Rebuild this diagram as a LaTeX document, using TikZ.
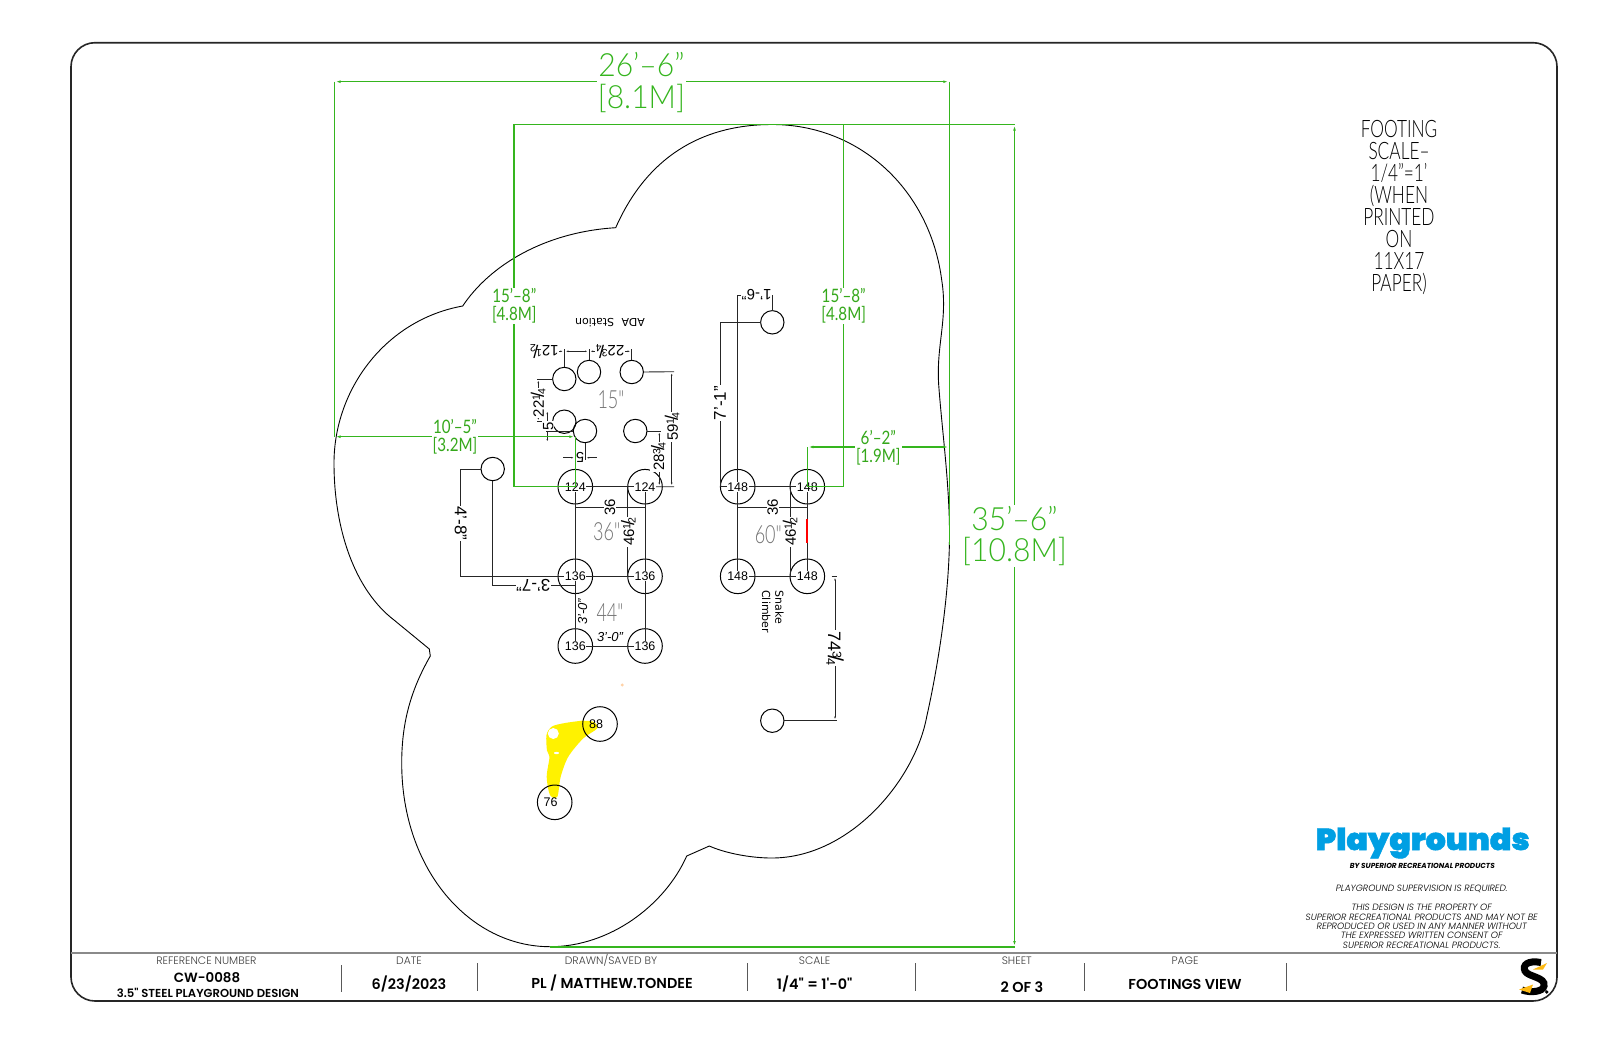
\documentclass[tikz,border=0pt]{standalone}
\usepackage{fontspec}
\usetikzlibrary{arrows.meta}
\setmainfont{Liberation Sans}
\newfontfamily\cadf[FakeStretch=0.94]{Lato Light}
\newfontfamily\cadn[FakeStretch=0.72]{Lato Light}
\newfontfamily\cads[FakeStretch=0.82]{Lato}
\newfontfamily\sdf{DejaVu Sans}
\newfontfamily\popl{Poppins Light}
\newfontfamily\popm{Poppins SemiBold}
\newfontfamily\pop{Poppins}
\newfontfamily\logof[FakeBold=1.5]{Poppins Black}
\newcommand\frc[2]{\raisebox{3.8pt}{\fontsize{10.5}{10.5}\selectfont #1}\kern-2.4pt{\fontsize{18}{18}\selectfont/}\kern-2.4pt\raisebox{-1.5pt}{\fontsize{10.5}{10.5}\selectfont #2}}
\definecolor{cadgreen}{HTML}{35B51E}
\definecolor{cadgreenD}{HTML}{35A81B}
\definecolor{ttl}{HTML}{8A8A8A}
\definecolor{blueP}{HTML}{009FE3}
\definecolor{yelS}{HTML}{FDB913}
\tikzset{
 foot/.style={circle,draw=black,line width=1,minimum size=34.6pt,inner sep=0pt,outer sep=0pt},
 pier/.style={circle,draw=black,line width=1,minimum size=23.4pt,inner sep=0pt,outer sep=0pt},
 flab/.style={fill=white,inner sep=.5pt,font=\fontsize{12.5}{12.5}\selectfont},
 dline/.style={line width=.9,black!85},
 darr/.style={dline,arrows={Latex[length=4pt,width=1.6pt]-Latex[length=4pt,width=1.6pt]}},
 dtxt/.style={fill=white,inner sep=.7pt,font=\fontsize{15}{15}\selectfont},
 dbig/.style={fill=white,inner sep=.7pt,font=\fontsize{17}{17}\selectfont},
 gline/.style={line width=1.15,cadgreen},
 garr/.style={gline,arrows={Latex[length=6pt,width=2.6pt]-Latex[length=6pt,width=2.6pt]}},
 gbig/.style={fill=white,inner sep=1pt,align=center,text=cadgreen,font=\cadf\fontsize{32}{31.6}\selectfont},
 gsmall/.style={fill=white,inner sep=1pt,align=center,text=cadgreenD,font=\cads\fontsize{18.5}{18}\selectfont},
 gray num/.style={inner sep=0pt,text=black!55,font=\cadn\fontsize{25}{25}\selectfont},
 ttllab/.style={inner sep=0pt,text=black!75,font=\popl\fontsize{10.8}{11}\selectfont},
 ttlval/.style={inner sep=0pt,font=\popm\fontsize{14.4}{14.4}\selectfont},
 sepline/.style={line width=1,black!65},
 legal/.style={inner sep=0pt,font=\popl\itshape\fontsize{9.1}{9}\selectfont},
 outline/.style={line width=.9,black},
}
\begin{document}
\begin{tikzpicture}[x=1pt,y=-1pt]
\useasboundingbox (0,0) rectangle (1613,1044);
\fill[white] (0,0) rectangle (1613,1044);
% frame
\draw[line width=1.6,black!85,rounded corners=24pt] (71,42.7) rectangle (1557,1001);
\draw[line width=2,ttl] (71,952.7) -- (1557,952.7);
% site outline
\draw[outline,line join=miter] (615.7,227.7) .. controls (650,150) and (710,124.5) .. (772,124.5)
 .. controls (860,124.5) and (930,190) .. (941.7,280)
 .. controls (948,320) and (936,345) .. (938.7,385)
 .. controls (942,430) and (949,480) .. (949.5,530)
 .. controls (950,600) and (935,680) .. (926.7,716.7)
 .. controls (915,780) and (850,858) .. (771.7,858)
 .. controls (750,858) and (725,853) .. (709.3,846)
 -- (686.7,856)
 .. controls (665,905) and (610,946.7) .. (550,946.7)
 .. controls (470,946.7) and (401.7,870) .. (401.7,763)
 .. controls (401.7,720) and (412,688) .. (430.3,656)
 -- (429.3,649) -- (394,620)
 .. controls (355,590) and (334,530) .. (334,463)
 .. controls (334,390) and (385,320) .. (462.7,306)
 .. controls (490,265) and (545,232) .. (615.7,227.7) -- cycle;
% yellow highlight
\fill[yellow] plot[smooth,tension=.5] coordinates {(581.7,720.7) (565,723) (552,726.5) (546.5,735) (547,750.7) (549.5,757) (546.7,776.7) (550,795) (557.3,796.7) (560.7,776.7) (568.3,756.7) (583.3,738.3) (597.3,728.3) (593.3,721.7) (581.7,720.7)};
\fill[white] (553.3,733.5) circle (5.5pt);
\fill[white] (556.5,753) ellipse (2.5pt and 1.2pt);
\fill[orange!35] (622.3,685) circle (1.6pt);
% footings
\node[foot] (a1) at (575.3,486.7) {};
\node[foot] (a2) at (645,486.7) {};
\node[foot] (b1) at (575.3,576.3) {};
\node[foot] (b2) at (645,576.3) {};
\node[foot] (c1) at (575.3,646) {};
\node[foot] (c2) at (645,646) {};
\node[foot] (d1) at (737.7,486.7) {};
\node[foot] (d2) at (807.3,486.7) {};
\node[foot] (e1) at (737.7,576.3) {};
\node[foot] (e2) at (807.3,576.3) {};
\node[foot] (g1) at (600,724) {};
\node[foot] (g2) at (554.7,802.3) {};
\node[pier] (s1) at (564.3,379) {};
\node[pier] (s2) at (589,372) {};
\node[pier] (s3) at (631.7,372) {};
\node[pier] (s4) at (564.3,421.7) {};
\node[pier] (s5) at (585,431) {};
\node[pier] (s6) at (635.3,431) {};
\node[pier] (s7) at (492.7,469) {};
\node[pier] (s8) at (772.3,322.3) {};
\node[pier] (s9) at (772.3,720.7) {};
% free ends of dimension lines
\coordinate (u1) at (564.3,349);
\coordinate (u2) at (589,349);
\coordinate (u3) at (631.7,349);
\coordinate (h1) at (564.3,351.3);
\coordinate (h2) at (589,351.3);
\coordinate (h3) at (631.7,351.3);
\coordinate (h0) at (552,351.3);
\coordinate (q1) at (674,371.7);
\coordinate (q2) at (674,486.7);
\coordinate (q3) at (671.7,371.7);
\coordinate (q4) at (671.7,486.7);
\coordinate (r1) at (661,431);
\coordinate (r2) at (659.3,431);
\coordinate (r3) at (659.3,486.7);
\coordinate (l1) at (536.7,379);
\coordinate (l2) at (536.7,421.7);
\coordinate (l3) at (538.3,379);
\coordinate (l4) at (538.3,421.7);
\coordinate (m1) at (547.3,410);
\coordinate (m2) at (547.3,443);
\coordinate (m3) at (545.7,431);
\coordinate (n1) at (563,457.7);
\coordinate (n2) at (596.7,457.7);
\coordinate (n3) at (585,460);
\coordinate (n5) at (575.3,457.7);
\coordinate (n6) at (585,457.7);
\coordinate (t1) at (575.3,507.3);
\coordinate (t2) at (645,507.3);
\coordinate (t3) at (737.7,507.3);
\coordinate (t4) at (807.3,507.3);
\coordinate (f1) at (627.7,486.7);
\coordinate (f2) at (627.7,576.3);
\coordinate (f3) at (790,486.7);
\coordinate (f4) at (790,576.3);
\coordinate (k1) at (460.7,469);
\coordinate (k2) at (460.7,576.3);
\coordinate (j1) at (492.7,585);
\coordinate (j2) at (575.3,585);
\coordinate (w1) at (737.7,295);
\coordinate (w2) at (772.3,295);
\coordinate (w3) at (720,322.3);
\coordinate (w4) at (720,486.7);
\coordinate (v1) at (831.7,576.3);
\coordinate (v2) at (837,576.3);
\coordinate (v3) at (835,576.3);
\coordinate (v4) at (835,720.7);
\coordinate (v5) at (837,720.7);
\coordinate (red1) at (807.3,519.3);
\coordinate (red2) at (807.3,543.3);
% footing ties
\draw[dline,line width=1] (a1.center) -- (a2.center) (b1.center) -- (b2.center) (c1.center) -- (c2.center)
 (a1.center) -- (c1.center) (a2.center) -- (c2.center)
 (d1.center) -- (d2.center) (e1.center) -- (e2.center)
 (d1.center) -- (e1.center) (d2.center) -- (e2.center);
\draw[line width=2,red] (red1) -- (red2);
% dimensions
\draw[dline] (s1.north) -- (u1) (s2.north) -- (u2) (s3.north) -- (u3);
\draw[darr] (h0) -- (h1);
\draw[darr] (h1) -- (h2);
\draw[darr] (h2) -- (h3);
\node[dtxt,rotate=180] (t12) at (544.3,351.3) {12\frc{1}{2}};
\node[dtxt,rotate=180] (t22) at (610,351.3) {22\frc{3}{4}};
\draw[dline] (s3.east) -- (q1) (a2.center) -- (q2);
\draw[darr] (q3) -- (q4);
\node[dtxt,rotate=90] (t59) at (672,426.7) {59\frc{1}{4}};
\draw[dline] (s6.east) -- (r1);
\draw[darr] (r2) -- (r3);
\node[dtxt,rotate=90] (t28) at (658.3,456.7) {28\frc{3}{4}};
\draw[dline] (s1.west) -- (l1) (s4.west) -- (l2);
\draw[darr] (l3) -- (l4);
\node[dtxt,rotate=90] (t22v) at (538,403) {22\frc{1}{4}};
\draw[darr] (m1) -- (m2);
\draw[dline] (s5.west) -- (m3);
\node[dtxt,rotate=90] (t5v) at (548.3,426) {5};
\draw[dline,arrows={-Latex[length=4pt,width=1.6pt]}] (n1) -- (n5);
\draw[dline,arrows={-Latex[length=4pt,width=1.6pt]}] (n2) -- (n6);
\draw[dline] (s5.south) -- (n3);
\node[inner sep=0pt,rotate=180,font=\fontsize{14.5}{14.5}\selectfont] (t5h) at (580,457.7) {5};
\draw[dline] (t1) -- (t2) (t3) -- (t4);
\node[dtxt,rotate=90] (t36a) at (610,507.3) {36};
\node[dtxt,rotate=90] (t36b) at (772.7,507.3) {36};
\draw[dline] (f1) -- (f2) (f3) -- (f4);
\node[dtxt,rotate=90] (t46a) at (628.3,531.7) {46\frc{1}{2}};
\node[dtxt,rotate=90] (t46b) at (790,531.7) {46\frc{1}{2}};
\node[dtxt,rotate=90,fill=white,font=\itshape\fontsize{13}{13}\selectfont] (t30v) at (582.7,611.7) {3'-0"};
\node[inner sep=0pt,font=\itshape\fontsize{13}{13}\selectfont] (t30h) at (610,636.7) {3'-0"};
\draw[dline] (s7.west) -- (k1) -- (k2) -- (b1.center);
\node[dbig,rotate=-90] (t48) at (460.7,523.3) {4'-8"};
\draw[dline] (s7.south) -- (j1) -- (j2) -- (b1.center);
\node[dbig,rotate=180] (t37) at (533.3,585) {3'-7"};
\draw[dline] (s8.north) -- (w2) -- (w1) -- (d1.center);
\node[dtxt,rotate=180] (t16) at (756.7,295) {1'-6"};
\draw[dline] (s8.west) -- (w3) -- (w4) -- (d1.center);
\node[dbig,rotate=90] (t71) at (720,403) {7'-1"};
\draw[dline] (v1) -- (v2) (s9.east) -- (v5);
\draw[darr] (v3) -- (v4);
\node[dtxt,rotate=-90] (t74) at (835,648.3) {\scalebox{1.2}{74\frc{3}{4}}};
% footing depths
\node[flab] at (a1) {124};
\node[flab] at (a2) {124};
\node[flab] at (b1) {136};
\node[flab] at (b2) {136};
\node[flab] at (c1) {136};
\node[flab] at (c2) {136};
\node[flab] at (d1) {148};
\node[flab] at (d2) {148};
\node[flab] at (e1) {148};
\node[flab] at (e2) {148};
\node[flab,fill=none] at (596,724) {88};
\node[flab,fill=none] at (550.5,802) {76};
% annotations
\node[gray num] (n15) at (611,399.3) {15"};
\node[gray num] (n36) at (606.7,531.7) {36"};
\node[gray num] (n44) at (610,612.7) {44"};
\node[gray num] (n60) at (768.3,535) {60"};
\node[inner sep=0pt,rotate=180,font=\sdf\fontsize{11}{11}\selectfont] (ada) at (610,322.3) {ADA\hspace{4pt} Station};
\node[inner sep=0pt,rotate=-90,align=left,font=\sdf\fontsize{11}{13.3}\selectfont] (snake) at (772.8,611.7) {Snake\\Climber};
% green dimensions
\coordinate (gA) at (334.5,81.7);
\coordinate (gB) at (949.3,81.7);
\coordinate (gA2) at (334.5,436.7);
\coordinate (gB2) at (949.3,545);
\coordinate (gC) at (514,124.5);
\coordinate (gC2) at (514,486.7);
\coordinate (gD) at (843.7,124.5);
\coordinate (gD2) at (843.7,486.7);
\coordinate (gE) at (1014.5,124.5);
\coordinate (gF) at (1014.5,947);
\coordinate (gG) at (550,947);
\coordinate (gH) at (575.3,436.7);
\coordinate (gI) at (807.3,447);
\coordinate (gJ) at (949.3,447);
\draw[gline] (gA) -- (gA2) (gB) -- (gB2);
\draw[garr] (gA) -- (gB);
\draw[gline] (gC2) -- (gC) -- (gE);
\draw[gline] (gC2) -- (a1.center);
\draw[gline] (gD) -- (gD2) -- (d2.center);
\draw[gline] (gG) -- (gF);
\draw[garr] (gE) -- (gF);
\draw[garr] (gA2) -- (gH);
\draw[gline] (gH) -- (a1.center);
\draw[garr] (gI) -- (gJ);
\draw[gline] (gI) -- (d2.center);
\node[gbig] (g26) at (641.4,82.5) {26’–6”\\{[}8.1M{]}};
\node[gbig] (g35) at (1014.5,536) {35’–6”\\{[}10.8M{]}};
\node[gsmall] (g15a) at (514.3,306) {15’–8”\\{[}4.8M{]}};
\node[gsmall] (g15b) at (843.7,306) {15’–8”\\{[}4.8M{]}};
\node[gsmall] (g10) at (455,437) {10’–5”\\{[}3.2M{]}};
\node[gsmall] (g6) at (878.3,447.5) {6’–2”\\{[}1.9M{]}};
% scale note
\node[inner sep=0pt,align=center,font=\cadn\fontsize{24}{21.9}\selectfont] (note) at (1399,207.5) {FOOTING\\SCALE–\\1/4”=1’\\(WHEN\\PRINTED\\ON\\11X17\\PAPER)};
% logo block
\node[inner sep=0pt,text=blueP] (logo) at (1422.7,843) {\resizebox*{214pt}{31pt}{\logof Playgrounds}};
\node[inner sep=0pt] (byline) at (1422.3,866) {\resizebox{145pt}{!}{\pop\bfseries\itshape BY SUPERIOR RECREATIONAL PRODUCTS}};
\node[legal] (sup) at (1421.7,889) {PLAYGROUND SUPERVISION IS REQUIRED.};
\node[legal] (lg1) at (1421.7,907.7) {THIS DESIGN IS THE PROPERTY OF};
\node[legal] (lg2) at (1421.7,917) {SUPERIOR RECREATIONAL PRODUCTS AND MAY NOT BE};
\node[legal] (lg3) at (1421.7,926.3) {REPRODUCED OR USED IN ANY MANNER WITHOUT};
\node[legal] (lg4) at (1421.7,935.7) {THE EXPRESSED WRITTEN CONSENT OF};
\node[legal] (lg5) at (1421.7,945) {SUPERIOR RECREATIONAL PRODUCTS.};
% title block
\node[ttllab] (tl1) at (206.4,960.7) {REFERENCE NUMBER};
\node[ttlval,font=\popm\fontsize{13.4}{13.4}\selectfont] (tv1) at (207,978) {CW-0088};
\node[ttlval,font=\popm\fontsize{11.6}{11.6}\selectfont] (tv1b) at (208,992.7) {3.5" STEEL PLAYGROUND DESIGN};
\node[ttllab] (tl2) at (409,960.7) {DATE};
\node[ttlval] (tv2) at (409,984.3) {6/23/2023};
\node[ttllab] (tl3) at (611,960.7) {DRAWN/SAVED BY};
\node[ttlval] (tv3) at (612,982.7) {PL / MATTHEW.TONDEE};
\node[ttllab] (tl4) at (814.6,960.7) {SCALE};
\node[ttlval] (tv4) at (814.6,984.3) {1/4" = 1'-0"};
\node[ttllab] (tl5) at (1016.8,960.7) {SHEET};
\node[ttlval] (tv5) at (1022,987) {2 OF 3};
\node[ttllab] (tl6) at (1185,960.7) {PAGE};
\node[ttlval] (tv6) at (1185,984.7) {FOOTINGS VIEW};
\draw[sepline] (341.7,965) -- (341.7,992);
\draw[sepline] (477,963) -- (477,991);
\draw[sepline] (747.5,963) -- (747.5,991);
\draw[sepline] (915.7,963) -- (915.7,991);
\draw[sepline] (1084.6,963) -- (1084.6,991);
\draw[sepline] (1286.8,963) -- (1286.8,991);
% S mark
\draw[line width=7,black] (1541,962.5) .. controls (1528,960) and (1522,965) .. (1525,971) .. controls (1528,977) and (1546,977) .. (1544,986) .. controls (1543,992) and (1530,993) .. (1522,990);
\fill[yelS] (1533,969.5) -- (1547,963) -- (1543,969.5) -- cycle;
\fill[yelS] (1519,989.5) -- (1533,984.5) -- (1530,993) -- cycle;
\fill[black] (1546.7,992) circle (1.8pt);
\end{tikzpicture}
\end{document}
